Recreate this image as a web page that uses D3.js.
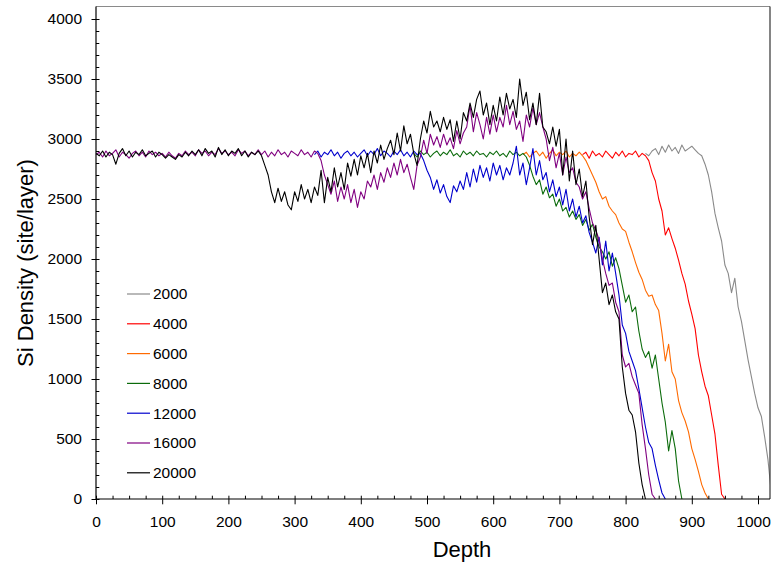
<!DOCTYPE html>
<html>
<head>
<meta charset="utf-8">
<script src="https://cdn.jsdelivr.net/npm/d3@7"></script>
<style>
    body { margin: 0; background: #fff; }
    svg { font-family: Arial, "Liberation Sans", sans-serif; }
</style>
</head>
<body>
<svg id="chart" width="772" height="565"></svg>
<script>
// depth step between samples, and the depth where each listed curve starts
// (the shared flat plateau is only listed where the curve is not hidden)
const depthStep = 5;
const seriesNames = ["2000", "4000", "6000", "8000", "12000", "16000", "20000"];
const startDepths = [830, 735, 645, 480, 330, 0, 0];

const s2000 = [2880,2860,2900,2920,2870,2940,2890,2950,2900,2930,
    2880,2950,2900,2920,2940,2910,2880,2860,2790,2700,
    2560,2380,2260,2150,1950,1880,1720,1840,1600,1480,
    1320,1160,1020,880,760,690,520,330,60,0];

const s4000 = [2870,2890,2840,2900,2860,2880,2850,2900,2870,2840,
    2890,2860,2900,2850,2880,2870,2900,2850,2880,2860,
    2820,2720,2650,2500,2400,2200,2260,2170,2090,1990,
    1880,1790,1650,1540,1420,1200,1060,940,860,700,
    540,280,40,0];

const s6000 = [2870,2890,2850,2880,2900,2860,2890,2840,2880,2910,
    2860,2890,2870,2900,2850,2880,2860,2890,2860,2820,
    2760,2700,2640,2560,2500,2520,2440,2400,2370,2300,
    2250,2230,2140,2060,1970,1890,1830,1740,1690,1700,
    1620,1570,1380,1150,1290,1060,1000,820,720,650,
    560,420,330,230,120,50,0];

const s8000 = [2880,2850,2900,2870,2890,2850,2880,2900,2860,2890,
    2870,2910,2860,2880,2850,2900,2870,2890,2860,2900,
    2870,2880,2850,2890,2870,2900,2860,2880,2850,2900,
    2870,2890,2860,2880,2850,2780,2690,2620,2660,2540,
    2600,2510,2540,2440,2500,2400,2430,2350,2400,2330,
    2370,2280,2330,2240,2290,2180,2100,2060,2000,2060,
    1940,2010,1920,1780,1640,1700,1560,1600,1400,1250,
    1180,1230,1090,1200,1000,800,640,400,570,420,
    150,0];

const s12000 = [2870,2900,2850,2890,2870,2910,2860,2890,2840,2880,
    2900,2860,2890,2850,2880,2910,2860,2900,2870,2920,
    2860,2900,2880,2850,2900,2870,2910,2860,2890,2850,
    2900,2870,2880,2820,2740,2680,2580,2660,2550,2620,
    2520,2470,2610,2560,2650,2580,2720,2600,2750,2640,
    2780,2680,2760,2650,2800,2700,2780,2660,2760,2700,
    2800,2940,2700,2800,2620,2760,2920,2700,2820,2660,
    2720,2560,2660,2520,2600,2450,2580,2400,2500,2350,
    2440,2300,2360,2220,2140,2050,2180,1950,2150,1900,
    2050,1880,1700,1450,1380,1230,1150,1070,920,760,
    600,470,420,280,160,50,0];

const s16000 = [2870,2890,2850,2900,2860,2880,2910,2850,2890,2870,
    2840,2880,2900,2860,2890,2850,2900,2870,2890,2860,
    2880,2850,2890,2860,2840,2880,2860,2900,2870,2890,
    2860,2910,2880,2900,2860,2890,2870,2920,2880,2900,
    2870,2890,2860,2910,2880,2900,2860,2890,2870,2910,
    2870,2900,2850,2890,2860,2910,2870,2890,2850,2900,
    2880,2860,2910,2870,2890,2850,2900,2880,
    2820,2700,2620,2540,2650,2480,2600,2500,2620,2470,
    2580,2430,2560,2500,2650,2600,2700,2580,2720,2640,
    2760,2680,2800,2700,2830,2720,2790,2680,2580,2780,
    2850,2990,2880,3040,2950,3020,2930,3040,2950,3010,
    2920,3070,2960,3050,3100,3280,3060,3220,3120,3000,
    3180,3040,3200,3060,3180,3100,3280,3120,3230,3080,
    3150,2980,3200,3100,3260,3120,3220,3100,3000,2820,
    2930,2760,2880,2700,2850,2720,2760,2640,2600,2500,
    2560,2420,2300,2240,2160,2000,1880,1780,1800,1640,
    1560,1200,1100,1130,1020,950,880,620,420,200,
    40,0];

const s20000 = [2880,2860,2900,2850,2890,2870,2790,2880,2920,2860,
    2900,2850,2890,2870,2910,2860,2880,2900,2850,2890,
    2870,2840,2870,2850,2830,2870,2850,2890,2860,2900,
    2870,2910,2860,2920,2880,2900,2850,2930,2870,2910,
    2860,2900,2880,2920,2860,2900,2850,2890,2870,2900,
    2860,2780,2700,2560,2470,2590,2480,2560,2450,2410,
    2560,2480,2620,2500,2580,2470,2600,2530,2740,2470,
    2680,2560,2760,2600,2720,2580,2800,2690,2830,2700,
    2860,2760,2880,2720,2900,2800,2950,2830,2920,2990,
    2870,3050,2900,3110,2960,3040,2880,2780,3000,3150,
    3050,3230,3100,3150,3060,3180,3080,3160,2980,3150,
    3000,3220,3150,3300,3180,3330,3400,3200,3300,3120,
    3280,3150,3350,3200,3380,3250,3330,3180,3500,3280,
    3390,3160,3300,3120,3380,3100,3060,2960,3100,2940,
    3080,2700,3000,2650,2900,2620,2750,2520,2650,2350,
    2120,2280,2000,1720,1800,1620,1700,1560,1500,1100,
    880,740,700,560,300,120,0];

const seriesValues = [s2000, s4000, s6000, s8000, s12000, s16000, s20000];
const seriesColors = ["#8a8a8a", "#ff0000", "#ff6a00", "#0b6b0b", "#0000cd", "#800080", "#000000"];

const xMajor = d3.range(0, 1001, 100);
const xMinor = d3.range(25, 1020, 25).filter(d => d % 100 !== 0);
const yMajor = d3.range(0, 4001, 500);
const yMinor = d3.range(100, 4100, 100).filter(d => d % 500 !== 0);

const plot = { left: 96, right: 770, top: 6.5, bottom: 499 };

const svg = d3.select("#chart");
const x = d3.scaleLinear().domain([0, 1000]).range([96, 758]);
const y = d3.scaleLinear().domain([0, 4000]).range([499, 19]);

svg.append("defs").append("clipPath").attr("id", "plot-clip")
    .append("rect")
    .attr("x", plot.left).attr("y", plot.top)
    .attr("width", plot.right - plot.left).attr("height", plot.bottom - plot.top + 1);

// curves, first series underneath
const line = d3.line().x(d => x(d[0])).y(d => y(d[1]));
const curves = svg.append("g").attr("clip-path", "url(#plot-clip)");
seriesValues.forEach((vals, i) => {
    const pts = vals.map((v, j) => [startDepths[i] + j * depthStep, v]);
    curves.append("path")
        .datum(pts)
        .attr("fill", "none")
        .attr("stroke", seriesColors[i])
        .attr("stroke-width", 1.1)
        .attr("stroke-linejoin", "round")
        .attr("d", line);
});

// frame
svg.append("line").attr("x1", plot.left).attr("x2", plot.right)
    .attr("y1", plot.top).attr("y2", plot.top)
    .attr("stroke", "#8a8a8a").attr("stroke-width", 1.2);
svg.append("line").attr("x1", plot.right).attr("x2", plot.right)
    .attr("y1", plot.top).attr("y2", plot.bottom)
    .attr("stroke", "#333").attr("stroke-width", 1.2);

// x axis
svg.append("g")
    .attr("transform", `translate(0,${plot.bottom})`)
    .call(d3.axisBottom(x).tickValues(xMinor).tickSize(-3.3).tickFormat("").tickSizeOuter(0))
    .call(g => g.select(".domain").remove());
const xAxis = svg.append("g")
    .attr("transform", `translate(0,${plot.bottom})`)
    .call(d3.axisBottom(x).tickValues(xMajor).tickSize(5.3).tickSizeOuter(0).tickFormat(d => String(d)))
    .call(g => g.select(".domain").remove())
    .attr("font-family", null).attr("font-size", 15.5);
xAxis.selectAll(".tick line").attr("y1", -3.3);
xAxis.selectAll(".tick text").attr("y", 17)
    .attr("dx", d => d === 1000 ? -5 : 0);

// y axis
svg.append("g")
    .attr("transform", `translate(${plot.left},0)`)
    .call(d3.axisLeft(y).tickValues(yMinor).tickSize(-3.3).tickFormat("").tickSizeOuter(0))
    .call(g => g.select(".domain").remove());
const yAxis = svg.append("g")
    .attr("transform", `translate(${plot.left},0)`)
    .call(d3.axisLeft(y).tickValues(yMajor).tickSize(4.5).tickSizeOuter(0).tickFormat(d => String(d)))
    .call(g => g.select(".domain").remove())
    .attr("font-family", null).attr("font-size", 15.5);
yAxis.selectAll(".tick line").attr("x2", 3.5).attr("x1", -4.5);
yAxis.selectAll(".tick text").attr("x", -14);

svg.append("line").attr("x1", plot.left).attr("x2", plot.right)
    .attr("y1", plot.bottom).attr("y2", plot.bottom)
    .attr("stroke", "#000").attr("stroke-width", 1.2);
svg.append("line").attr("x1", plot.left).attr("x2", plot.left)
    .attr("y1", plot.top).attr("y2", plot.bottom)
    .attr("stroke", "#000").attr("stroke-width", 1.2);

// titles
svg.append("text")
    .attr("x", 462).attr("y", 557)
    .attr("text-anchor", "middle")
    .attr("font-size", 22)
    .text("Depth");
svg.append("text")
    .attr("transform", "translate(33,263) rotate(-90)")
    .attr("text-anchor", "middle")
    .attr("font-size", 22)
    .text("Si Density (site/layer)");

// legend
const legend = svg.append("g");
seriesNames.forEach((name, i) => {
    const ly = 294 + i * 29.8;
    legend.append("line")
        .attr("x1", 127).attr("x2", 150)
        .attr("y1", ly).attr("y2", ly)
        .attr("stroke", seriesColors[i]).attr("stroke-width", 1.2);
    legend.append("text")
        .attr("x", 153).attr("y", ly).attr("dy", "0.35em")
        .attr("font-size", 15.5)
        .text(name);
});
</script>
</body>
</html>
